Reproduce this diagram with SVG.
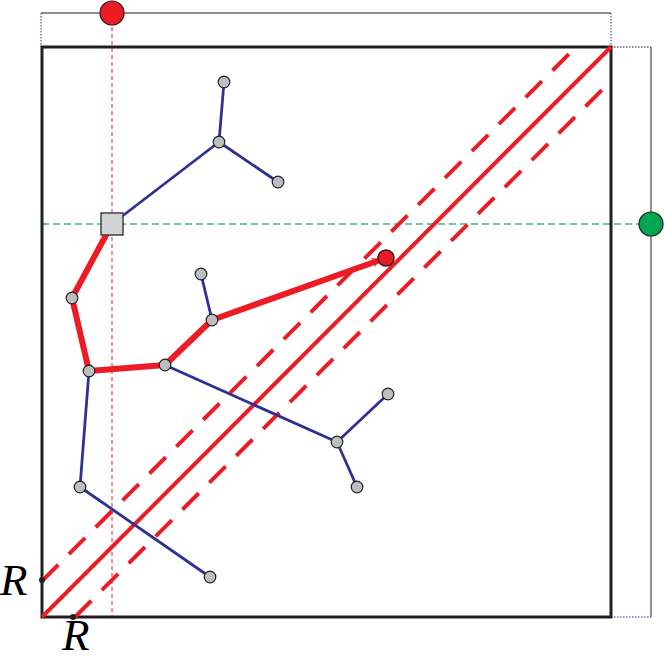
<svg xmlns="http://www.w3.org/2000/svg" width="664" height="660" viewBox="0 0 664 660">
<style>
.frame{fill:none;stroke:#231f20;stroke-width:3}
.thin{fill:none;stroke:#231f20;stroke-width:1}
.dotb{fill:none;stroke:#2e3192;stroke-width:1;stroke-dasharray:1.5 1.5}
.dotk{fill:none;stroke:#231f20;stroke-width:1;stroke-dasharray:1.5 1.5}
.blue{fill:none;stroke:#2e3192;stroke-width:2.8}
.red{fill:none;stroke:#ed1c24;stroke-width:6;stroke-linejoin:round}
.diag{fill:none;stroke:#ed1c24;stroke-width:4}
.diagd{fill:none;stroke:#ed1c24;stroke-width:4;stroke-dasharray:23 15}
.node{fill:#bcbec0;stroke:#231f20;stroke-width:1.2}
.lbl{font-family:"Liberation Serif",serif;font-style:italic;font-size:45px;fill:#000}
</style>
<defs>
<marker id="ah" markerWidth="10" markerHeight="10" refX="8" refY="5" orient="auto" markerUnits="userSpaceOnUse">
<path d="M0,0 L9,5 L0,10 L3,5 Z" fill="#ed1c24"/>
</marker>
</defs>
<g id="guides">
<line x1="112" y1="13" x2="112" y2="617" stroke="#ed1c24" stroke-width="1" stroke-dasharray="4 3"/>
<line x1="42" y1="224" x2="651" y2="224" stroke="#3cb878" stroke-width="1.4" stroke-dasharray="7 4"/>
</g>
<g id="brackets">
<line class="thin" x1="41" y1="13" x2="611" y2="13"/>
<line class="dotb" x1="41" y1="13" x2="41" y2="47"/>
<line class="dotb" x1="611" y1="13" x2="611" y2="47"/>
<line class="dotk" x1="611" y1="47" x2="651" y2="47"/>
<line class="thin" x1="651" y1="47" x2="651" y2="617"/>
<line class="dotb" x1="611" y1="617" x2="651" y2="617"/>
</g>
<g id="frame">
<rect class="frame" x="42" y="47" width="569" height="570"/>
</g>
<g id="diagonals">
<line class="diag" x1="42" y1="617" x2="611" y2="47"/>
<line class="diagd" x1="42" y1="581" x2="576" y2="47"/>
<line class="diagd" x1="75" y1="617" x2="611" y2="81"/>
</g>
<g id="connectors">
<line class="blue" x1="112" y1="224" x2="219" y2="142"/>
<line class="blue" x1="219" y1="142" x2="224" y2="82"/>
<line class="blue" x1="219" y1="142" x2="278" y2="182"/>
<line class="blue" x1="212" y1="320" x2="201" y2="274"/>
<line class="blue" x1="89" y1="371" x2="80" y2="487"/>
<line class="blue" x1="80" y1="487" x2="210" y2="577"/>
<line class="blue" x1="165" y1="365" x2="337" y2="442"/>
<line class="blue" x1="337" y1="442" x2="388" y2="394"/>
<line class="blue" x1="337" y1="442" x2="357" y2="487"/>
<polyline class="red" points="112,224 72,298 89,371 165,365 212,320 380,260" marker-end="url(#ah)"/>
</g>
<g id="n-square"><rect x="101" y="213" width="22" height="22" fill="#d1d3d4" stroke="#414042" stroke-width="1.5"/></g>
<g id="n1"><circle class="node" cx="224" cy="82" r="5.8"/></g>
<g id="n2"><circle class="node" cx="219" cy="142" r="5.8"/></g>
<g id="n3"><circle class="node" cx="278" cy="182" r="5.8"/></g>
<g id="n4"><circle class="node" cx="72" cy="298" r="5.8"/></g>
<g id="n5"><circle class="node" cx="89" cy="371" r="5.8"/></g>
<g id="n6"><circle class="node" cx="165" cy="365" r="5.8"/></g>
<g id="n7"><circle class="node" cx="212" cy="320" r="5.8"/></g>
<g id="n8"><circle class="node" cx="201" cy="274" r="5.8"/></g>
<g id="n9"><circle class="node" cx="337" cy="442" r="5.8"/></g>
<g id="n10"><circle class="node" cx="388" cy="394" r="5.8"/></g>
<g id="n11"><circle class="node" cx="357" cy="487" r="5.8"/></g>
<g id="n12"><circle class="node" cx="80" cy="487" r="5.8"/></g>
<g id="n13"><circle class="node" cx="210" cy="577" r="5.8"/></g>
<g id="n-goal"><circle cx="386" cy="258" r="8" fill="#ed1c24" stroke="#231f20" stroke-width="1.5"/></g>
<g id="n-top"><circle cx="112" cy="13" r="12" fill="#ed1c24" stroke="#231f20" stroke-width="1.2"/></g>
<g id="n-right"><circle cx="651" cy="224" r="12" fill="#00a650" stroke="#231f20" stroke-width="1.2"/></g>
<g id="r-left"><circle cx="42" cy="580" r="3" fill="#231f20"/><text class="lbl" x="0" y="595">R</text></g>
<g id="r-bottom"><circle cx="73" cy="617" r="3" fill="#231f20"/><text class="lbl" x="62" y="650">R</text></g>
</svg>
